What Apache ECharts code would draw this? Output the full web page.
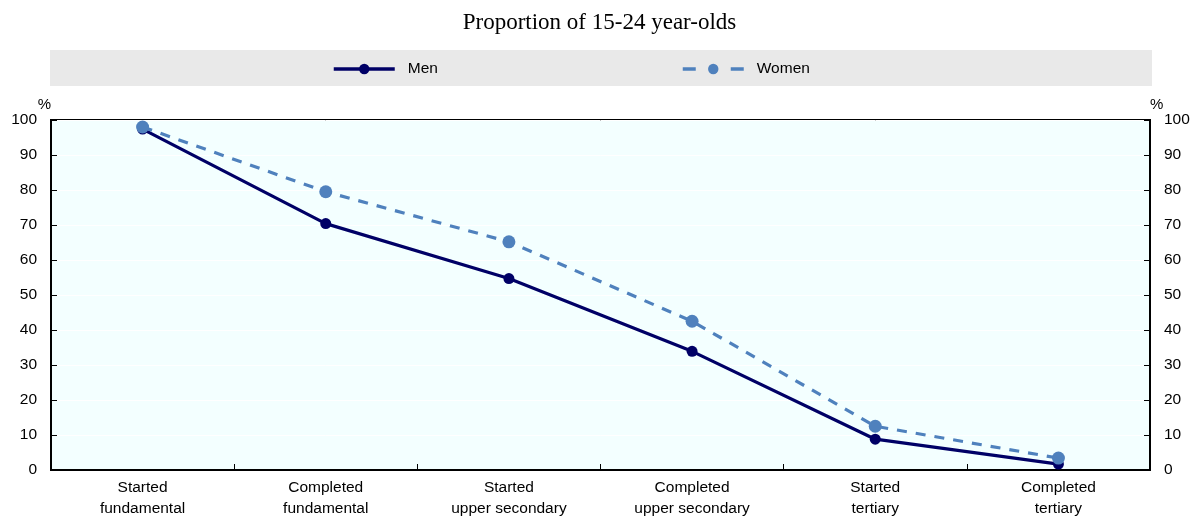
<!DOCTYPE html>
<html>
<head>
<meta charset="utf-8">
<script src="https://cdn.jsdelivr.net/npm/echarts@6/dist/echarts.min.js"></script>
<style>
html,body{margin:0;padding:0;background:#fff;}
#chart{width:1199px;height:519px;}
</style>
</head>
<body>
<div id="chart"></div>
<script>
var categories = ['Started\nfundamental', 'Completed\nfundamental', 'Started\nupper secondary', 'Completed\nupper secondary', 'Started\ntertiary', 'Completed\ntertiary'];
var men = [97.4, 70.4, 54.7, 33.9, 8.8, 1.7];
var women = [98.0, 79.5, 65.2, 42.5, 12.5, 3.4];
var yTicks = [0, 10, 20, 30, 40, 50, 60, 70, 80, 90, 100];

var chart = echarts.init(document.getElementById('chart'));
var sans = 'Liberation Sans, Arial, sans-serif';
function yAxisDef(pos) {
  return {
    type: 'value', position: pos, min: yTicks[0], max: yTicks[yTicks.length - 1], interval: 10,
    name: '%', nameLocation: 'end', nameGap: 6,
    nameTextStyle: { fontFamily: sans, fontSize: 15, color: '#000',
      align: pos === 'left' ? 'right' : 'left', padding: [0, 0, 0, 0] },
    axisLine: { show: true, lineStyle: { color: '#000', width: 2 } },
    axisTick: { show: true, inside: true, length: 6, lineStyle: { color: '#000', width: 1 } },
    axisLabel: { margin: 14, fontFamily: sans, fontSize: 15.5, color: '#000' },
    splitLine: { show: pos === 'left', lineStyle: { color: '#ffffff', width: 1 } }
  };
}
var legendText = { fontFamily: sans, fontSize: 15.5, color: '#000', padding: [0, 0, 0, 8] };
var option = {
  backgroundColor: '#fff',
  animation: false,
  title: {
    text: 'Proportion of 15-24 year-olds', left: 'center', top: 6,
    textStyle: { fontFamily: 'Liberation Serif, Times New Roman, serif', fontSize: 23, fontWeight: 'normal', color: '#000' }
  },
  graphic: [{
    type: 'rect', left: 50, top: 50, shape: { width: 1102, height: 36 },
    style: { fill: '#e9e9e9' }, z: -1
  }],
  legend: [{
    data: ['Men'], left: 327, top: 56, itemWidth: 61, itemHeight: 13,
    lineStyle: { width: 3.5 },
    textStyle: legendText
  }, {
    data: ['Women'], left: 676, top: 56, itemWidth: 61, itemHeight: 13,
    lineStyle: { width: 3.5, type: [13, 35] },
    textStyle: legendText
  }],
  grid: {
    left: 51, right: 49, top: 120, bottom: 48,
    show: true, backgroundColor: '#f3ffff', borderColor: '#000', borderWidth: 2
  },
  xAxis: {
    type: 'category', data: categories, boundaryGap: true,
    axisLine: { show: true, lineStyle: { color: '#000', width: 2 } },
    axisTick: { show: true, inside: true, length: 6, lineStyle: { color: '#000', width: 1 } },
    axisLabel: { interval: 0, margin: 7, lineHeight: 21, fontFamily: sans, fontSize: 15.5, color: '#000' },
    splitLine: { show: false }
  },
  yAxis: [yAxisDef('left'), yAxisDef('right')],
  series: [{
    name: 'Men', type: 'line', data: men, yAxisIndex: 0,
    symbol: 'circle', symbolSize: 11,
    itemStyle: { color: '#000066' },
    lineStyle: { color: '#000066', width: 3.2 },
    z: 2
  }, {
    name: 'Women', type: 'line', data: women, yAxisIndex: 0,
    symbol: 'circle', symbolSize: 13,
    itemStyle: { color: '#4f81bd' },
    lineStyle: { color: '#4f81bd', width: 3.2, type: [10, 9] },
    z: 3
  }]
};
chart.setOption(option);
</script>
</body>
</html>
